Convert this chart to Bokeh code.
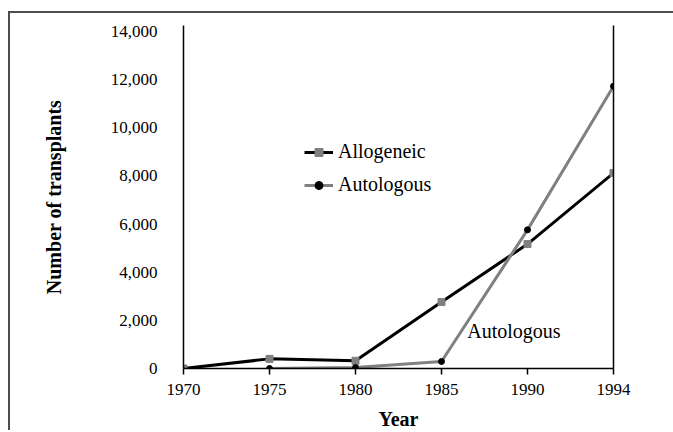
import numpy as np
from bokeh.plotting import figure
from bokeh.models import Range1d, FixedTicker, Label, Legend, LegendItem, NumeralTickFormatter, LinearAxis
from bokeh.embed import file_html
from bokeh.resources import INLINE

years = ["1970", "1975", "1980", "1985", "1990", "1994"]
allogeneic = [0, 400, 320, 2760, 5170, 8120]
autologous = [np.nan, 0, 40, 290, 5760, 11730]
y_ticks = [0, 2000, 4000, 6000, 8000, 10000, 12000, 14000]

x = list(range(len(years)))
FONT = "Liberation Serif"
GRAY = "#808080"

p = figure(width=665, height=419, output_backend="svg", toolbar_location=None,
           x_range=Range1d(0, len(years) - 1), y_range=Range1d(0, 14250),
           min_border_left=173, min_border_right=62, min_border_top=12, min_border_bottom=64)
p.styles = {"border-left": "2px solid #4d4d4d", "border-top": "2px solid #4d4d4d",
            "margin-top": "11px", "margin-left": "8px"}
p.outline_line_color = None
p.grid.visible = False
p.background_fill_color = "white"
p.border_fill_color = "white"

# axes
p.xaxis.ticker = FixedTicker(ticks=x)
p.xaxis.major_label_overrides = {i: y for i, y in enumerate(years)}
p.xaxis.minor_tick_line_color = None
p.xaxis.major_tick_in = 0
p.xaxis.major_tick_out = 6
p.xaxis.major_label_standoff = 9
p.xaxis.axis_label = "Year"
p.xaxis.axis_label_standoff = 10

p.yaxis.ticker = FixedTicker(ticks=y_ticks)
p.yaxis.formatter = NumeralTickFormatter(format="0,0")
p.yaxis.minor_tick_line_color = None
p.yaxis.major_tick_in = 0
p.yaxis.major_tick_out = 0
p.yaxis.major_label_standoff = 26
p.yaxis.axis_label = "Number of transplants"
p.yaxis.axis_label_standoff = 43

for ax in (p.xaxis[0], p.yaxis[0]):
    ax.axis_line_color = "black"
    ax.axis_line_width = 1.5
    ax.major_tick_line_width = 1.5
    ax.major_label_text_font = FONT
    ax.major_label_text_font_size = "17px"
    ax.major_label_text_color = "black"
    ax.axis_label_text_font = FONT
    ax.axis_label_text_font_size = "20px"
    ax.axis_label_text_font_style = "bold"
    ax.axis_label_text_color = "black"
p.xaxis.major_tick_line_color = "black"
p.yaxis.major_tick_line_color = None

# right spine as a bare axis
right = LinearAxis(ticker=FixedTicker(ticks=[]), axis_line_color="black", axis_line_width=1.5,
                   major_tick_line_color=None, minor_tick_line_color=None,
                   major_label_text_font_size="0px")
p.add_layout(right, "right")

# series
l1 = p.line(x, allogeneic, line_color="black", line_width=3)
l2 = p.line(x, autologous, line_color=GRAY, line_width=3)
s1 = p.scatter(x, allogeneic, marker="square", size=7, fill_color=GRAY, line_color=GRAY)
s2 = p.scatter(x, autologous, marker="circle", size=6, fill_color="black", line_color="black")

legend = Legend(items=[LegendItem(label="Allogeneic", renderers=[l1, s1]),
                       LegendItem(label="Autologous", renderers=[l2, s2])],
                location=(121, 172), orientation="vertical",
                glyph_width=29, glyph_height=20, label_standoff=5, spacing=10,
                padding=0, margin=0, border_line_color=None, background_fill_alpha=0,
                label_text_font=FONT, label_text_font_size="20px", label_text_color="black",
                label_height=20)
p.add_layout(legend, "center")

p.add_layout(Label(x=3.30, y=1550, text="Autologous", text_font=FONT, text_font_size="20px",
                   text_color="black", text_baseline="alphabetic"))

open("out.html", "w").write(file_html(p, INLINE))
